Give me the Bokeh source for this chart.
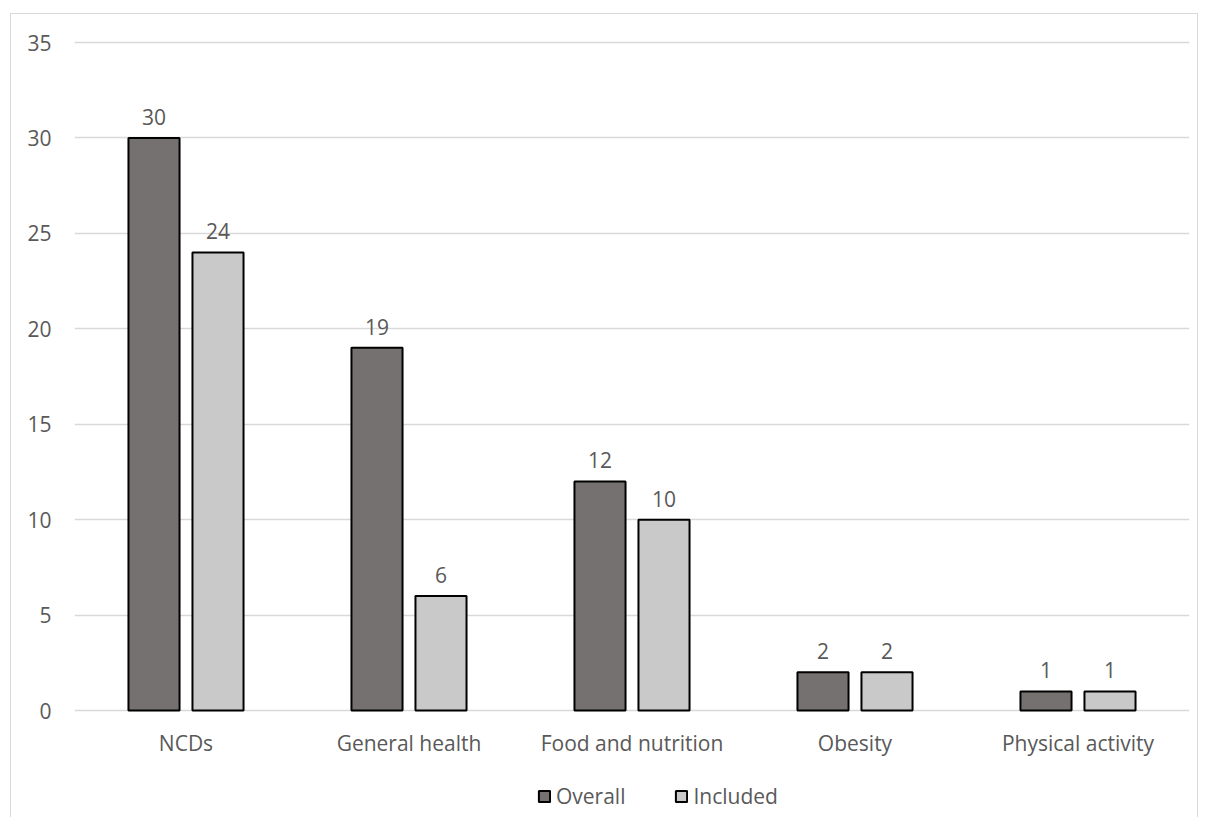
from bokeh.plotting import figure
from bokeh.models import ColumnDataSource, FactorRange, Legend, LegendItem, LabelSet, FixedTicker, Range1d
from bokeh.core.properties import value
from bokeh.transform import dodge
from bokeh.embed import file_html
from bokeh.resources import INLINE

categories = ["NCDs", "General health", "Food and nutrition", "Obesity", "Physical activity"]
overall = [30, 19, 12, 2, 1]
included = [24, 6, 10, 2, 1]
series_names = ["Overall", "Included"]
y_ticks = [0, 5, 10, 15, 20, 25, 30, 35]

FONT = "Open Sans"
TXT = "#595959"
FS = "21px"

W, H = 1198, 817
LEFT, RIGHT, TOP = 74, 9, 40
AXIS_PX = 668                      # pixel height of the 0..35 value span
y_top_tick = y_ticks[-1]
px_per_unit = AXIS_PX / y_top_tick
y_max = y_top_tick + 2 / px_per_unit      # 2px headroom so the top gridline is drawn
frame_h = H - TOP
y_min = y_max - frame_h / px_per_unit     # room below 0 for category labels and legend

src = ColumnDataSource(dict(
    cat=categories,
    overall=overall,
    included=included,
    overall_lbl=[str(v) for v in overall],
    included_lbl=[str(v) for v in included],
))

p = figure(
    x_range=FactorRange(*categories, range_padding=0),
    y_range=Range1d(y_min, y_max),
    width=W, height=H,
    output_backend="svg", toolbar_location=None,
    min_border_left=LEFT, min_border_right=RIGHT, min_border_top=TOP, min_border_bottom=0,
)
p.outline_line_color = None
p.background_fill_color = "white"
p.border_fill_alpha = 0
p.styles = {
    "background-color": "white",
    "box-shadow": ("inset 10px 0 0 0 white, inset 0 13px 0 0 white, "
                   "inset 11px 0 0 0 #d9d9d9, inset 0 14px 0 0 #d9d9d9, "
                   "inset -1px 0 0 0 #d9d9d9"),
}

r1 = p.vbar(x=dodge("cat", -0.1435, range=p.x_range), top="overall", width=0.229, source=src,
            fill_color="#767171", line_color="black", line_width=2)
r2 = p.vbar(x=dodge("cat", 0.1435, range=p.x_range), top="included", width=0.229, source=src,
            fill_color="#c9c9c9", line_color="black", line_width=2)

for field, off in (("overall", -0.1435), ("included", 0.1435)):
    ls = LabelSet(x=dodge("cat", off, range=p.x_range), y=field, text=field + "_lbl", source=src,
                  text_align="center", text_baseline="bottom", y_offset=13,
                  text_font=value(FONT), text_font_size=value(FS), text_color=TXT)
    p.add_layout(ls)

p.xgrid.grid_line_color = None
p.ygrid.grid_line_color = "#d9d9d9"
p.ygrid.grid_line_width = 1.5
p.yaxis.ticker = FixedTicker(ticks=y_ticks)
p.xaxis.fixed_location = 0

for ax in (p.xaxis[0], p.yaxis[0]):
    ax.axis_line_color = None
    ax.major_tick_line_color = None
    ax.minor_tick_line_color = None
    ax.major_label_text_font = FONT
    ax.major_label_text_font_size = FS
    ax.major_label_text_color = TXT
p.yaxis.major_label_standoff = 17
p.xaxis.major_label_standoff = 12

legend = Legend(items=[LegendItem(label=series_names[0], renderers=[r1]),
                       LegendItem(label=series_names[1], renderers=[r2])],
                orientation="horizontal", location=(463, 7),
                glyph_width=14, glyph_height=14, label_standoff=5, spacing=49,
                padding=0, margin=0, border_line_color=None, background_fill_alpha=0,
                label_text_font=FONT, label_text_font_size=FS, label_text_color=TXT)
p.add_layout(legend, "center")

open("out.html", "w").write(file_html(p, INLINE))
